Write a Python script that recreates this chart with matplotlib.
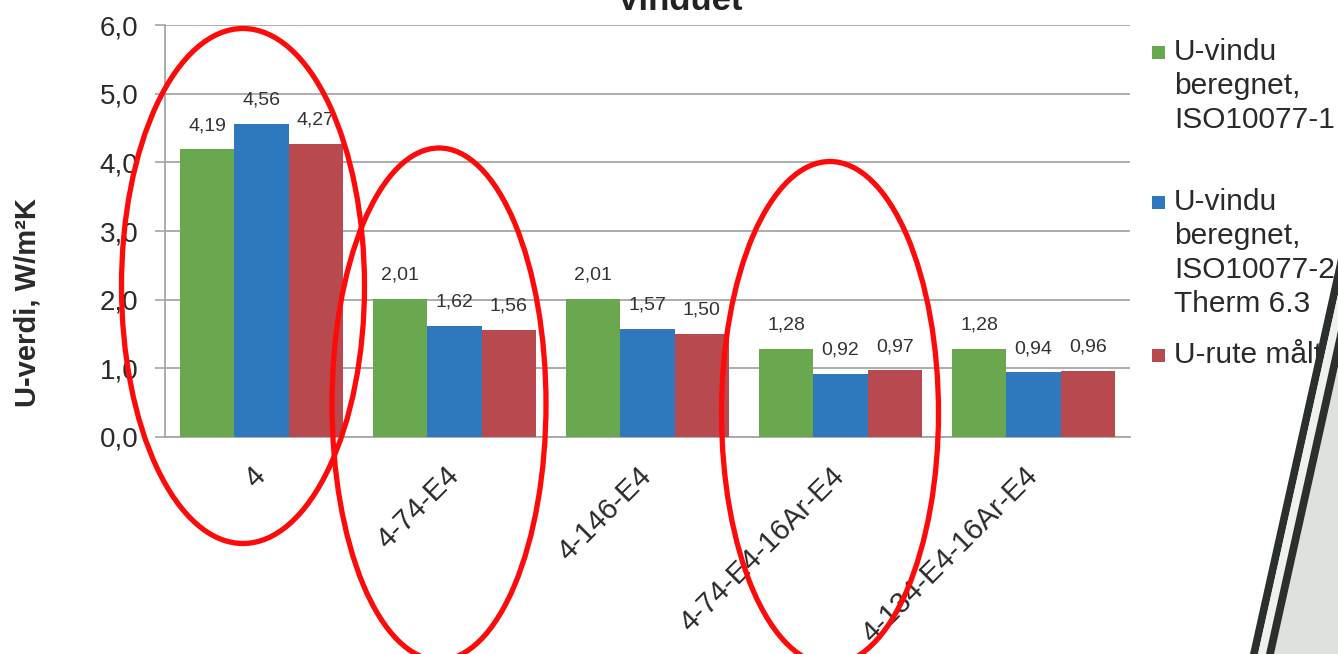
import numpy as np
import matplotlib
matplotlib.use("Agg")
import matplotlib.pyplot as plt
from matplotlib.patches import Ellipse, Polygon, Rectangle
from matplotlib.transforms import ScaledTranslation

plt.rcParams["font.family"] = ["Liberation Sans", "DejaVu Sans"]

# Glazing configurations and their U-values (W/m²K)
categories = ["4", "4-74-E4", "4-146-E4", "4-74-E4-16Ar-E4", "4-134-E4-16Ar-E4"]
u_iso1 = [4.19, 2.01, 2.01, 1.28, 1.28]
u_iso2 = [4.56, 1.62, 1.57, 0.92, 0.94]
u_measured = [4.27, 1.56, 1.50, 0.97, 0.96]

series_labels = [
    ["U-vindu", "beregnet,", "ISO10077-1"],
    ["U-vindu", "beregnet,", "ISO10077-2", "Therm 6.3"],
    ["U-rute målt"],
]
series_colors = ["#6aa84f", "#2f78bd", "#b84a4f"]
yticks = [0, 1, 2, 3, 4, 5, 6]

W, H = 1338, 654
fig = plt.figure(figsize=(W / 100, H / 100), dpi=100)
fig.patch.set_facecolor("white")

ax = fig.add_axes([165 / W, 1 - 437 / H, (1130 - 165) / W, (437 - 25) / H])
x = np.arange(len(categories))
bw = 0.281
series = [u_iso1, u_iso2, u_measured]
for i, (vals, col) in enumerate(zip(series, series_colors)):
    pos = x + (i - 1) * bw
    bars = ax.bar(pos, vals, width=bw, color=col, zorder=3)
    for b, v in zip(bars, vals):
        ax.annotate(f"{v:.2f}".replace(".", ","),
                    (b.get_x() + b.get_width() / 2, v),
                    xytext=(0, 11), textcoords="offset points",
                    ha="center", va="bottom", fontsize=14, color="#333333")

ax.set_xlim(-0.5, len(categories) - 0.5)
ax.set_ylim(0, 6)
ax.set_yticks(yticks)
ax.set_yticklabels([f"{v:.1f}".replace(".", ",") for v in yticks],
                   fontsize=20, color="#2a2a2a")
ax.set_xticks(x)
ax.set_xticklabels(categories, rotation=45, ha="right", va="center",
                   rotation_mode="anchor", fontsize=21, color="#2a2a2a")
shift = ScaledTranslation(-0.08, 0, fig.dpi_scale_trans)
for lbl in ax.get_xticklabels():
    lbl.set_transform(lbl.get_transform() + shift)
ax.tick_params(axis="x", length=0, pad=25)
ax.tick_params(axis="y", length=7, width=1.2, color="#a6a6a6", pad=12)
ax.yaxis.grid(True, color="#a6a6a6", linewidth=1.3)
ax.set_axisbelow(True)
for s in ("top", "right"):
    ax.spines[s].set_visible(False)
for s in ("left", "bottom"):
    ax.spines[s].set_color("#a6a6a6")
    ax.spines[s].set_linewidth(1.3)
ax.set_facecolor("white")

# Title sits at the very top edge of the sheet
fig.text(680 / W, 1 - 10 / H, "Vinduet", ha="center", va="baseline",
         fontsize=25, fontweight="bold", color="#222222")
fig.text(28 / W, 1 - 302 / H, "U-verdi, W/m²K", rotation=90, ha="center",
         va="center", fontsize=21, fontweight="bold", color="#2a2a2a")

# Overlay in pixel coordinates for legend, markup and frame edge
ov = fig.add_axes([0, 0, 1, 1], zorder=5)
ov.set_xlim(0, W)
ov.set_ylim(H, 0)
ov.axis("off")
ov.patch.set_alpha(0)

entry_tops = [52, 202, 355]
line_step = 34
for lines, col, y0 in zip(series_labels, series_colors, entry_tops):
    ov.add_patch(Rectangle((1152, y0 - 6), 13, 13, color=col, lw=0))
    for k, t in enumerate(lines):
        ov.text(1174, y0 + k * line_step, t, ha="left", va="center",
                fontsize=21.5, color="#2a2a2a")

# Hand-drawn red rings
for (cx, cy, ew, eh) in [(243, 286, 243, 515), (439, 404, 214, 512), (830, 413, 217, 503)]:
    ov.add_patch(Ellipse((cx, cy), ew, eh, fill=False, edgecolor="#ff0a0a",
                         linewidth=3.8, zorder=6))

# Window frame edge cutting across the right side
def edge_x(y, off):
    return 1250 + (654 - y) * (87 / 391) + off

ya, yb = 660, 150
def strip(o1, o2, col):
    pts = [(edge_x(ya, o1), ya), (edge_x(yb, o1), yb),
           (edge_x(yb, o2), yb), (edge_x(ya, o2), ya)]
    ov.add_patch(Polygon(pts, closed=True, color=col, lw=0, zorder=7))

strip(24, 400, "#dde2de")
strip(0, 8, "#2b302d")
strip(8, 16, "#eef1ee")
strip(16, 24, "#2b302d")

fig.savefig("out.png", dpi=100)
